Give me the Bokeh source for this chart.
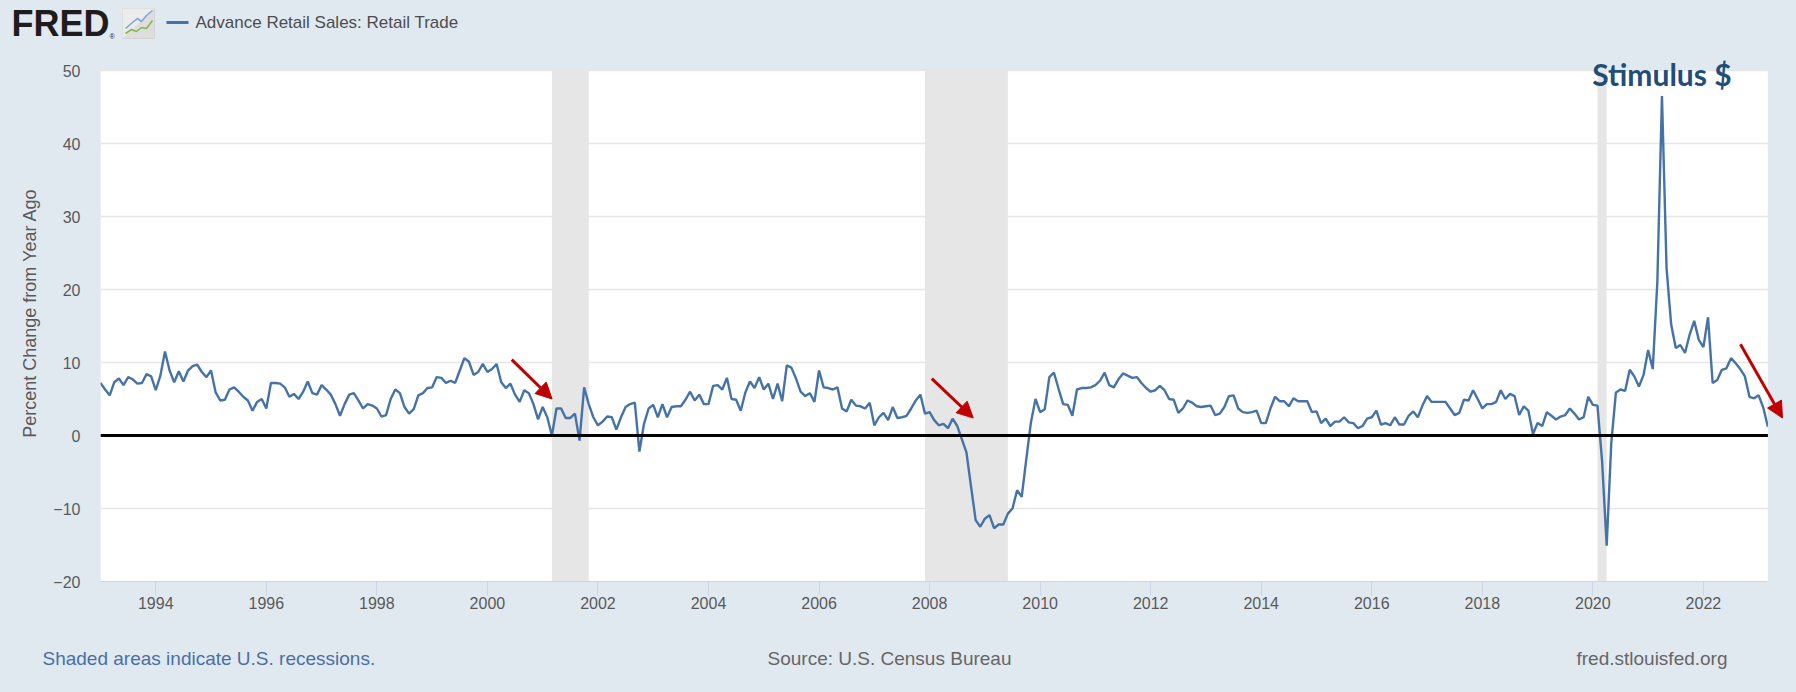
import pandas as pd
from bokeh.plotting import figure
from bokeh.layouts import column
from bokeh.models import (Range1d, FixedTicker, Span, Arrow, NormalHead, Label, Plot,
                          BoxAnnotation, ColumnDataSource, GlobalInlineStyleSheet)
from bokeh.embed import file_html
from bokeh.resources import INLINE

# ---------------- data (percent change from year ago, monthly) ----------------
series_name = "Advance Retail Sales: Retail Trade"
first_month = "1993-01-01"

pct_1993_1999 = [
    7.2, 6.3, 5.5, 7.3, 7.8, 6.9, 8.0, 7.7, 7.1, 7.2, 8.4, 8.1,
    6.2, 8.2, 11.5, 8.9, 7.3, 8.8, 7.4, 8.9, 9.5, 9.7, 8.7, 8.0,
    8.9, 5.9, 4.8, 4.9, 6.3, 6.6, 6.0, 5.3, 4.8, 3.4, 4.6, 5.0,
    3.7, 7.2, 7.2, 7.1, 6.6, 5.3, 5.7, 5.0, 6.0, 7.4, 5.8, 5.6,
    6.9, 6.3, 5.6, 4.3, 2.7, 4.3, 5.6, 5.8, 4.8, 3.7, 4.3, 4.1,
    3.7, 2.6, 2.8, 5.0, 6.3, 5.8, 3.9, 3.0, 3.6, 5.5, 5.8, 6.5,
    6.6, 8.0, 7.9, 7.2, 7.5, 7.2, 8.9, 10.6, 10.1, 8.3, 8.7, 9.8]

pct_2000_2009 = [
    8.7, 9.1, 9.8, 7.3, 6.5, 7.1, 5.6, 4.6, 6.2, 5.8, 4.3, 2.2,
    3.9, 2.5, 0.0, 3.7, 3.7, 2.4, 2.4, 3.0, -0.7, 6.6, 4.3, 2.5,
    1.4, 1.9, 2.6, 2.5, 0.8, 2.5, 3.9, 4.3, 4.5, -2.2, 1.6, 3.7,
    4.2, 2.5, 4.3, 2.5, 3.9, 4.0, 4.0, 4.9, 6.0, 4.8, 5.6, 4.3,
    4.3, 6.8, 6.9, 6.3, 7.9, 5.0, 4.9, 3.4, 5.9, 7.4, 6.5, 8.0,
    6.3, 7.1, 5.0, 7.1, 4.7, 9.6, 9.3, 7.8, 6.0, 5.4, 5.8, 4.6,
    8.9, 6.6, 6.5, 6.3, 6.6, 3.7, 3.3, 4.9, 4.1, 4.0, 3.7, 4.5,
    1.4, 2.5, 3.1, 2.1, 3.9, 2.4, 2.5, 2.7, 3.7, 4.8, 5.6, 3.0,
    3.2, 2.1, 1.4, 1.6, 1.0, 2.3, 1.3, -0.5, -2.3, -7.0, -11.6, -12.5,
    -11.4, -10.9, -12.7, -12.2, -12.2, -10.7, -10.0, -7.5, -8.4, -3.2, 1.8, 5.0]

pct_2010_2019 = [
    3.2, 3.6, 8.0, 8.6, 6.4, 4.3, 4.2, 2.7, 6.3, 6.5, 6.5, 6.6,
    6.9, 7.5, 8.6, 6.9, 6.6, 7.7, 8.5, 8.2, 7.9, 8.0, 7.2, 6.5,
    6.0, 6.2, 6.8, 6.2, 5.0, 4.9, 3.1, 3.7, 4.8, 4.5, 4.0, 3.9,
    4.0, 4.1, 2.8, 3.0, 3.9, 5.4, 5.5, 3.7, 3.2, 3.1, 3.2, 3.4,
    1.7, 1.7, 3.7, 5.3, 4.7, 4.7, 4.0, 5.1, 4.7, 4.7, 4.7, 3.2,
    3.3, 1.7, 2.3, 1.3, 1.9, 1.9, 2.5, 1.8, 1.7, 1.0, 1.3, 2.3,
    2.5, 3.4, 1.5, 1.7, 1.4, 2.5, 1.5, 1.5, 2.7, 3.3, 2.5, 4.1,
    5.4, 4.6, 4.6, 4.6, 4.6, 3.7, 2.8, 3.1, 4.9, 4.8, 6.2, 5.0,
    3.7, 4.3, 4.3, 4.6, 6.2, 5.0, 5.7, 5.4, 2.8, 4.0, 3.4, 0.2,
    1.7, 1.3, 3.2, 2.7, 2.2, 2.6, 2.8, 3.7, 3.0, 2.2, 2.5, 5.3]

pct_2020_2023 = [
    4.2, 4.1, -3.5, -15.1, -1.0, 5.9, 6.3, 6.1, 9.0, 8.1, 6.7, 8.3,
    11.7, 9.1, 21.1, 46.5, 22.9, 15.2, 12.0, 12.4, 11.3, 13.8, 15.7, 13.1,
    12.1, 16.2, 7.2, 7.6, 9.0, 9.2, 10.6, 9.9, 9.1, 8.1, 5.3, 5.1,
    5.5, 3.8, 1.2]

recession_starts = ["2001-03-01", "2007-12-01", "2020-02-01"]
recession_ends = ["2001-11-01", "2009-06-01", "2020-04-01"]

x_tick_years = [1994, 1996, 1998, 2000, 2002, 2004, 2006, 2008,
                2010, 2012, 2014, 2016, 2018, 2020, 2022]
y_tick_values = [-20, -10, 0, 10, 20, 30, 40, 50]
y_axis_title = "Percent Change from Year Ago"

annotation_text = "Stimulus $"
annotation_date = "2021-04-01"

# red arrows, in (decimal year, percent): start -> tip
arrow_starts = [(2000.44, 10.4), (2008.04, 7.8), (2022.67, 12.5)]
arrow_ends = [(2001.17, 5.0), (2008.79, 2.4), (2023.43, 2.4)]

footer_left = "Shaded areas indicate U.S. recessions."
footer_mid = "Source: U.S. Census Bureau"
footer_right = "fred.stlouisfed.org"

# ---------------- helpers ----------------
def dec_year(d):
    t = pd.Timestamp(d)
    return t.year + (t.month - 1) / 12.0

pct = pct_1993_1999 + pct_2000_2009 + pct_2010_2019 + pct_2020_2023
dates = pd.date_range(first_month, periods=len(pct), freq="MS")
xs = [d.year + (d.month - 1) / 12.0 for d in dates]
src = ColumnDataSource(dict(x=xs, y=pct))

BG = "#e1e9f0"
LINE = "#4572a7"
RED = "#c00000"
FONT = "Liberation Sans"
TXT = "#595959"

PAGE_W = 1796
HEAD_H, MAIN_H, FOOT_H = 44, 581, 67

X0, X1 = xs[0], xs[-1]
Y0, Y1 = -20, 50
PX_PER_YEAR = 1667.4 / (X1 - X0)
PX_PER_UNIT = 7.3
FRAME_L, FRAME_B = 100, 44
XR = X0 + (PAGE_W - FRAME_L) / PX_PER_YEAR
YT = Y0 + (MAIN_H - FRAME_B) / PX_PER_UNIT

HAS_FRAME_ALIGN = "frame_align" in Plot.properties()


def no_align(f):
    if HAS_FRAME_ALIGN:
        f.frame_align = False
    return f


def panel(h):
    f = figure(width=PAGE_W, height=h, x_range=Range1d(0, PAGE_W), y_range=Range1d(h, 0),
               output_backend="svg", toolbar_location=None, tools="", title=None,
               x_axis_location=None, y_axis_location=None, min_border=0,
               background_fill_color=BG, border_fill_color=BG, outline_line_color=None)
    f.grid.grid_line_color = None
    return no_align(f)

# ---------------- header ----------------
hdr = panel(HEAD_H)
hdr.add_layout(Label(x=11, y=23, text="FRED", text_font=FONT, text_font_style="bold",
                     text_font_size="36px", text_color="#1f1c1d", text_baseline="middle"))
hdr.add_layout(Label(x=109, y=36, text="\u00ae", text_font=FONT, text_font_size="7px",
                     text_color="#1f1c1d", text_baseline="middle"))
# small chart icon
hdr.quad(left=[122], right=[154], top=[8], bottom=[38], fill_color="#dedede",
         line_color="#d2d2d2")
hdr.patch(x=[122, 154, 122], y=[8, 8, 38], fill_color="#ececec", line_color=None)
hdr.line(x=[125, 132, 137, 141, 146, 152], y=[28, 22, 18, 21, 15, 10],
         line_color="#7fa6d3", line_width=1.6)
hdr.line(x=[125, 131, 136, 141, 146, 152], y=[33, 29, 31, 27, 28, 20],
         line_color="#86b94a", line_width=1.6)
# legend
hdr.line(x=[166, 188], y=[22, 22], line_color=LINE, line_width=3)
hdr.add_layout(Label(x=195, y=22, text=series_name, text_font=FONT, text_font_size="17px",
                     text_color="#4d4d4d", text_baseline="middle"))

# ---------------- main chart ----------------
p = figure(width=PAGE_W, height=MAIN_H, x_range=Range1d(X0, XR), y_range=Range1d(Y0, YT),
           output_backend="svg", toolbar_location=None, tools="", title=None,
           min_border_left=FRAME_L, min_border_right=0, min_border_top=0,
           min_border_bottom=FRAME_B, background_fill_color=BG,
           border_fill_color=BG, outline_line_color=None)
no_align(p)
p.stylesheets = [GlobalInlineStyleSheet(css="body { background-color: %s; }" % BG)]

# white plotting area
p.add_layout(BoxAnnotation(left=X0, right=X1, bottom=Y0, top=Y1, fill_color="white",
                           fill_alpha=1.0, line_color=None, level="image"))

xt = FixedTicker(ticks=x_tick_years)
yt = FixedTicker(ticks=y_tick_values)
p.xaxis.ticker = xt
p.yaxis.ticker = yt
p.ygrid.ticker = yt
p.xgrid.grid_line_color = None
p.ygrid.grid_line_color = "#e6e6e6"
p.ygrid.grid_line_width = 1.5

p.xaxis.bounds = (X0, X1)
p.xaxis.axis_line_color = "#ccd6eb"
p.xaxis.major_tick_line_color = "#ccd6eb"
p.xaxis.major_tick_in = 0
p.xaxis.major_tick_out = 14
p.xaxis.minor_tick_line_color = None
p.xaxis.major_label_standoff = 1
p.xaxis.major_label_text_font = FONT
p.xaxis.major_label_text_font_size = "16px"
p.xaxis.major_label_text_color = TXT

p.yaxis.axis_line_color = None
p.yaxis.major_tick_line_color = None
p.yaxis.minor_tick_line_color = None
p.yaxis.major_label_standoff = 14
p.yaxis.major_label_text_font = FONT
p.yaxis.major_label_text_font_size = "16px"
p.yaxis.major_label_text_color = TXT
p.yaxis.axis_label = y_axis_title
p.yaxis.axis_label_text_font = FONT
p.yaxis.axis_label_text_font_style = "normal"
p.yaxis.axis_label_text_font_size = "18px"
p.yaxis.axis_label_text_color = TXT
p.yaxis.axis_label_standoff = 10

# recession shading
rec_src = ColumnDataSource(dict(left=[dec_year(d) for d in recession_starts],
                                right=[dec_year(d) for d in recession_ends],
                                bottom=[Y0] * len(recession_starts),
                                top=[Y1] * len(recession_starts)))
p.quad(left="left", right="right", bottom="bottom", top="top", source=rec_src,
       fill_color="#e6e6e6", line_color=None)

p.line(x="x", y="y", source=src, line_color=LINE, line_width=2.4)

p.add_layout(Span(location=0, dimension="width", line_color="black", line_width=3))
# background beyond the last observation
p.add_layout(BoxAnnotation(left=X1, fill_color=BG, fill_alpha=1.0, line_color=None,
                           level="annotation"))

for (sx, sv), (ex, ev) in zip(arrow_starts, arrow_ends):
    p.add_layout(Arrow(end=NormalHead(size=16, fill_color=RED, line_color=RED),
                       x_start=sx, y_start=sv, x_end=ex, y_end=ev,
                       line_color=RED, line_width=3))

p.add_layout(Label(x=dec_year(annotation_date), y=Y1 - 3 / PX_PER_UNIT, text=annotation_text,
                   text_font="Lato", text_font_style="bold", text_font_size="30px",
                   text_color="#1f4e79", text_align="center", text_baseline="middle"))

# ---------------- footer ----------------
ftr = panel(FOOT_H)
ftr.add_layout(Label(x=42, y=33, text=footer_left, text_font=FONT, text_font_size="19px",
                     text_color="#4a6fa5", text_baseline="middle"))
ftr.add_layout(Label(x=889, y=33, text=footer_mid, text_font=FONT, text_font_size="19px",
                     text_color="#666666", text_align="center", text_baseline="middle"))
ftr.add_layout(Label(x=1727, y=33, text=footer_right, text_font=FONT, text_font_size="19px",
                     text_color="#666666", text_align="right", text_baseline="middle"))

layout = column(hdr, p, ftr, spacing=0)
open("out.html", "w").write(file_html(layout, INLINE))
